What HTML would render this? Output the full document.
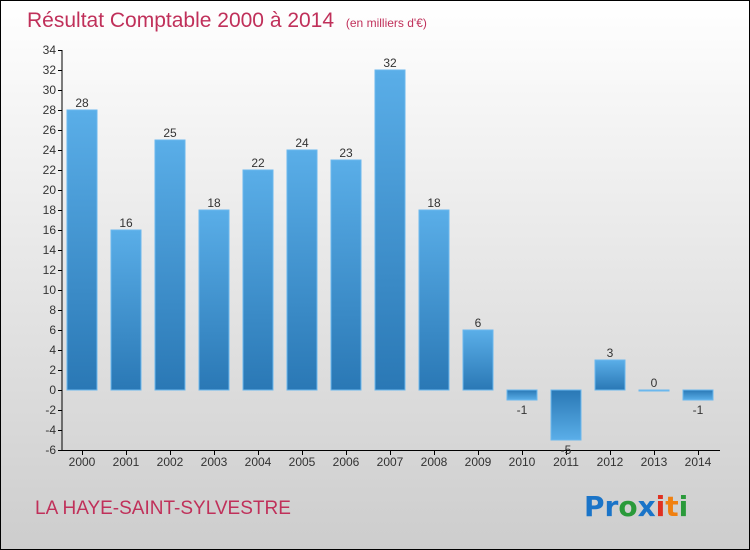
<!DOCTYPE html>
<html><head><meta charset="utf-8"><style>
body{margin:0}
#c{width:750px;height:550px;position:relative;overflow:hidden;font-family:"Liberation Sans","DejaVu Sans",sans-serif}
</style></head><body>
<div id="c">
<svg id="s" width="750" height="550" xmlns="http://www.w3.org/2000/svg">
<defs>
<linearGradient id="bg" x1="0" y1="0" x2="0" y2="1"><stop offset="0" stop-color="#ffffff"/><stop offset="1" stop-color="#cdcdcd"/></linearGradient>
<linearGradient id="gp" x1="0" y1="0" x2="0" y2="1"><stop offset="0" stop-color="#5aaee8"/><stop offset="1" stop-color="#2a78b5"/></linearGradient>
<linearGradient id="gn" x1="0" y1="0" x2="0" y2="1"><stop offset="0" stop-color="#2a78b5"/><stop offset="1" stop-color="#5aaee8"/></linearGradient>
</defs>
<rect x="0.5" y="0.5" width="749" height="549" fill="url(#bg)" stroke="#000"/>
<text x="27" y="27" font-size="21" fill="#c0305a">Résultat Comptable 2000 à 2014 <tspan font-size="12" dx="6">(en milliers d'€)</tspan></text>
<text x="35" y="514" font-size="19" fill="#c0305a">LA HAYE-SAINT-SYLVESTRE</text>
<text x="584" y="516" font-size="28" font-family="'DejaVu Sans',sans-serif" font-weight="bold"><tspan fill="#1a74c8">Pr</tspan><tspan fill="#2a9a3a">o</tspan><tspan fill="#1a74c8">x</tspan><tspan fill="#e03020">i</tspan><tspan fill="#f08010">t</tspan><tspan fill="#2a9a3a">i</tspan></text>
<g id="g"></g>
</svg>
</div>
<script>
const years=["2000","2001","2002","2003","2004","2005","2006","2007","2008","2009","2010","2011","2012","2013","2014"];
const values=[28,16,25,18,22,24,23,32,18,6,-1,-5,3,0,-1];
const yTicks=[-6,-4,-2,0,2,4,6,8,10,12,14,16,18,20,22,24,26,28,30,32,34];
const NS="http://www.w3.org/2000/svg";
const g=document.getElementById('g');
const y=v=>390-v*10;
const x=i=>82+i*44;
function el(t,a){const e=document.createElementNS(NS,t);for(const k in a)e.setAttribute(k,a[k]);g.appendChild(e);return e;}
let ax=el('line',{x1:62,y1:y(34),x2:62,y2:y(-6),stroke:'#000'});


let bx=el('line',{x1:62,y1:450.5,x2:720,y2:450.5,stroke:'#000'});


yTicks.forEach(t=>{
 el('line',{x1:58,x2:62,y1:y(t)+.5,y2:y(t)+.5,stroke:'#000'});
 const tx=el('text',{x:56,y:y(t)+4,'font-size':12,'text-anchor':'end',fill:'#333'});
 tx.textContent=t;
 
 
});
years.forEach((yr,i)=>{
 const v=values[i];
 el('line',{x1:x(i)+.5,x2:x(i)+.5,y1:450,y2:455,stroke:'#000'});
 const lt=el('text',{x:x(i),y:466,'font-size':12,'text-anchor':'middle',fill:'#333'});
 lt.textContent=yr;
 
 
 const top=Math.min(y(v),y(0)),h=Math.max(Math.abs(y(v)-y(0)),1);
 const r=el('rect',{x:x(i)-15,y:top,width:30,height:h,fill:v<0?'url(#gn)':'url(#gp)',stroke:'#6bb8ee','stroke-width':1});
 
 
 const vt=el('text',{x:x(i),y:v<0?y(v)+14:y(v)-3,'font-size':12,'text-anchor':'middle',fill:'#333'});
 vt.textContent=v;
 
 
});
</script>
</body></html>
